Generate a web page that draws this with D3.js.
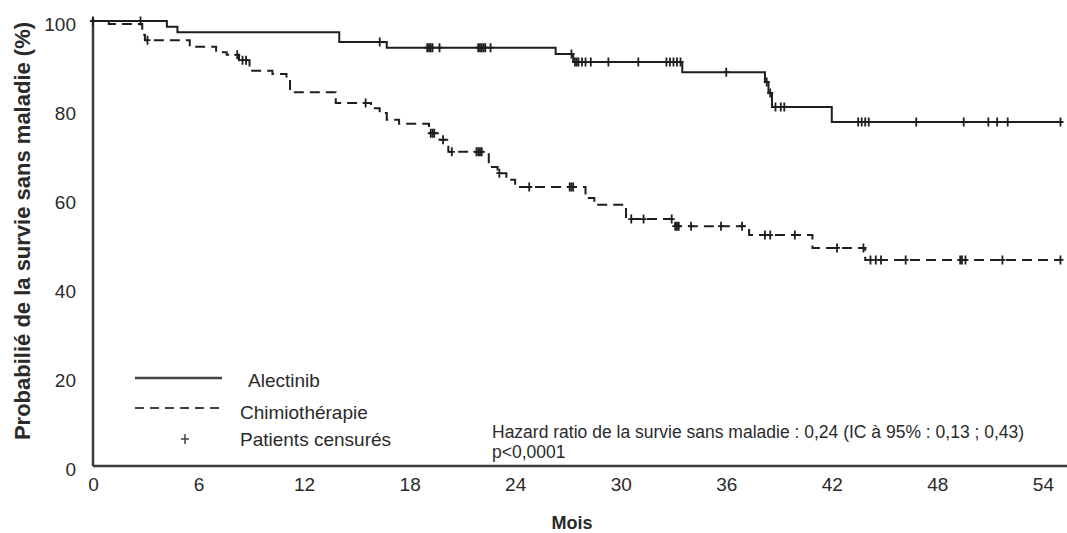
<!DOCTYPE html>
<html><head><meta charset="utf-8">
<script src="https://cdn.jsdelivr.net/npm/d3@7"></script>
<style>
html,body{margin:0;padding:0;background:#fff;}
svg{display:block;}
text{font-family:"Liberation Sans",Arial,sans-serif;}
</style></head>
<body>
<svg id="chart" width="1067" height="533"></svg>
<script>
// ---- data (months, % disease-free survival) ----
const alecTimes = [0, 4.2, 4.8, 14.0, 16.7, 26.3, 27.3, 33.5, 38.2, 38.4, 38.6, 42.0];
const alecSurv  = [100, 98.7, 97.5, 95.3, 94.0, 92.6, 90.8, 88.5, 86.3, 83.8, 80.7, 77.3];
const alecEnd = 55.0;
const alecCensor = [0, 2.7, 16.3, 19.0, 19.1, 19.2, 19.3, 19.7, 21.9, 22.0, 22.1, 22.2, 22.3, 22.6,
  27.2, 27.4, 27.5, 27.6, 27.8, 28.0, 28.3, 29.3, 31.0, 32.6, 32.8, 33.0, 33.2, 33.4, 36.0,
  38.3, 38.5, 38.8, 39.1, 39.3, 43.5, 43.7, 43.9, 44.1, 46.8, 49.5, 50.9, 51.4, 52.0, 55.0];

const chimTimes = [0, 0.9, 2.8, 2.95, 5.5, 7.0, 7.6, 8.3, 8.9, 10.2, 11.0, 11.2, 13.8, 15.8, 16.3, 16.7, 17.4,
  19.1, 19.7, 20.2, 22.5, 23.0, 23.5, 24.0, 28.0, 28.5, 30.3, 33.1, 37.3, 40.9, 43.9];
const chimSurv  = [100, 99.3, 96.9, 95.7, 94.2, 93.0, 92.4, 91.2, 88.8, 88.1, 87.0, 84.0, 81.6, 80.4, 79.3, 77.8, 76.9,
  74.8, 73.3, 70.6, 67.2, 65.8, 64.3, 62.7, 60.2, 58.7, 55.5, 53.9, 51.9, 49.0, 46.3];
const chimEnd = 55.0;
const chimCensor = [3.1, 8.2, 8.5, 8.7, 15.5, 19.2, 19.3, 19.4, 19.9, 20.4, 21.8, 21.9, 22.0, 22.1, 23.1, 24.8,
  27.1, 27.2, 27.3, 30.6, 31.3, 32.9, 33.1, 33.2, 33.3, 34.0, 35.7, 36.9, 38.2, 38.5, 39.9, 42.3,
  43.8, 44.2, 44.5, 44.8, 46.2, 49.3, 49.4, 49.6, 51.7, 55.0];

const xTicks = [0, 6, 12, 18, 24, 30, 36, 42, 48, 54];
const yTicks = [0, 20, 40, 60, 80, 100];
const seriesNames = ["Alectinib", "Chimiothérapie", "Patients censurés"];
const xTitle = "Mois";
const yTitle = "Probabilié de la survie sans maladie (%)";
const noteLines = ["Hazard ratio de la survie sans maladie : 0,24 (IC à 95% : 0,13 ; 0,43)", "p<0,0001"];

// ---- drawing ----
const svg = d3.select("#chart");
const x = d3.scaleLinear().domain([0, 55.4]).range([93, 1067.5]);
const y = d3.scaleLinear().domain([0, 100]).range([466, 21]);
const ink = "#1e1e1e", txt = "#2a2a2a";

function steps(times, surv, end) {
  const pts = times.map((t, i) => [t, surv[i]]);
  pts.push([end, surv[surv.length - 1]]);
  return pts;
}
function survAt(times, surv, t) {
  let v = surv[0];
  for (let i = 0; i < times.length; i++) if (times[i] <= t) v = surv[i];
  return v;
}
const line = d3.line().x(d => x(d[0])).y(d => y(d[1])).curve(d3.curveStepAfter);

// axes
const xAxis = d3.axisBottom(x).tickValues(xTicks).tickSize(0).tickPadding(12).tickFormat(d3.format("d"));
const gx = svg.append("g").attr("transform", `translate(0,${y(0)})`).call(xAxis);
gx.select(".domain").attr("stroke", "#3a3a3a").attr("stroke-width", 2.5).attr("d", `M${x(0)},0H1067`);
gx.selectAll("text").attr("font-size", 19).attr("fill", txt);

const yAxis = d3.axisLeft(y).tickValues(yTicks).tickSize(0).tickPadding(17);
const gy = svg.append("g").attr("transform", `translate(${x(0)},0)`).call(yAxis);
gy.select(".domain").attr("stroke", "#3a3a3a").attr("stroke-width", 2.5).attr("d", `M0,${y(0)}V${y(100) - 3}`);
gy.selectAll("text").attr("font-size", 19).attr("fill", txt).attr("dy", "0.48em");

// curves
svg.append("path").datum(steps(chimTimes, chimSurv, chimEnd)).attr("d", line)
  .attr("fill", "none").attr("stroke", ink).attr("stroke-width", 2).attr("stroke-dasharray", "10,6");
svg.append("path").datum(steps(alecTimes, alecSurv, alecEnd)).attr("d", line)
  .attr("fill", "none").attr("stroke", ink).attr("stroke-width", 2);

// censor marks
function plus(g, cx, cy, h, w) {
  g.append("path").attr("d", `M${cx},${cy - h / 2}V${cy + h / 2}M${cx - w / 2},${cy}H${cx + w / 2}`)
    .attr("stroke", ink).attr("stroke-width", 1.8).attr("fill", "none");
}
const gc = svg.append("g");
alecCensor.forEach(t => plus(gc, x(t), y(survAt(alecTimes, alecSurv, t)), 9, 6));
chimCensor.forEach(t => plus(gc, x(t), y(survAt(chimTimes, chimSurv, t)), 9, 6));

// legend
const lg = svg.append("g");
lg.append("line").attr("x1", 135).attr("x2", 222).attr("y1", 378).attr("y2", 378)
  .attr("stroke", "#444").attr("stroke-width", 2.5);
lg.append("line").attr("x1", 135).attr("x2", 222).attr("y1", 408).attr("y2", 408)
  .attr("stroke", "#444").attr("stroke-width", 2).attr("stroke-dasharray", "9,6");
lg.append("path").attr("d", "M185,434V444M181,439H189").attr("stroke", "#444").attr("stroke-width", 1.5);
const legX = [248, 240, 240], legY = [387, 419, 446];
seriesNames.forEach((s, i) => lg.append("text").attr("x", legX[i]).attr("y", legY[i])
  .attr("font-size", 19).attr("fill", txt).text(s));

// note
noteLines.forEach((s, i) => svg.append("text").attr("x", 492).attr("y", 438 + i * 20)
  .attr("font-size", 17.5).attr("fill", txt).text(s));

// titles
svg.append("text").attr("x", 572).attr("y", 529).attr("text-anchor", "middle")
  .attr("font-size", 18).attr("font-weight", "bold").attr("fill", txt).text(xTitle);
svg.append("text").attr("transform", "translate(30,231) rotate(-90)").attr("text-anchor", "middle")
  .attr("font-size", 22).attr("font-weight", "bold").attr("fill", txt).text(yTitle);
</script>
</body></html>
